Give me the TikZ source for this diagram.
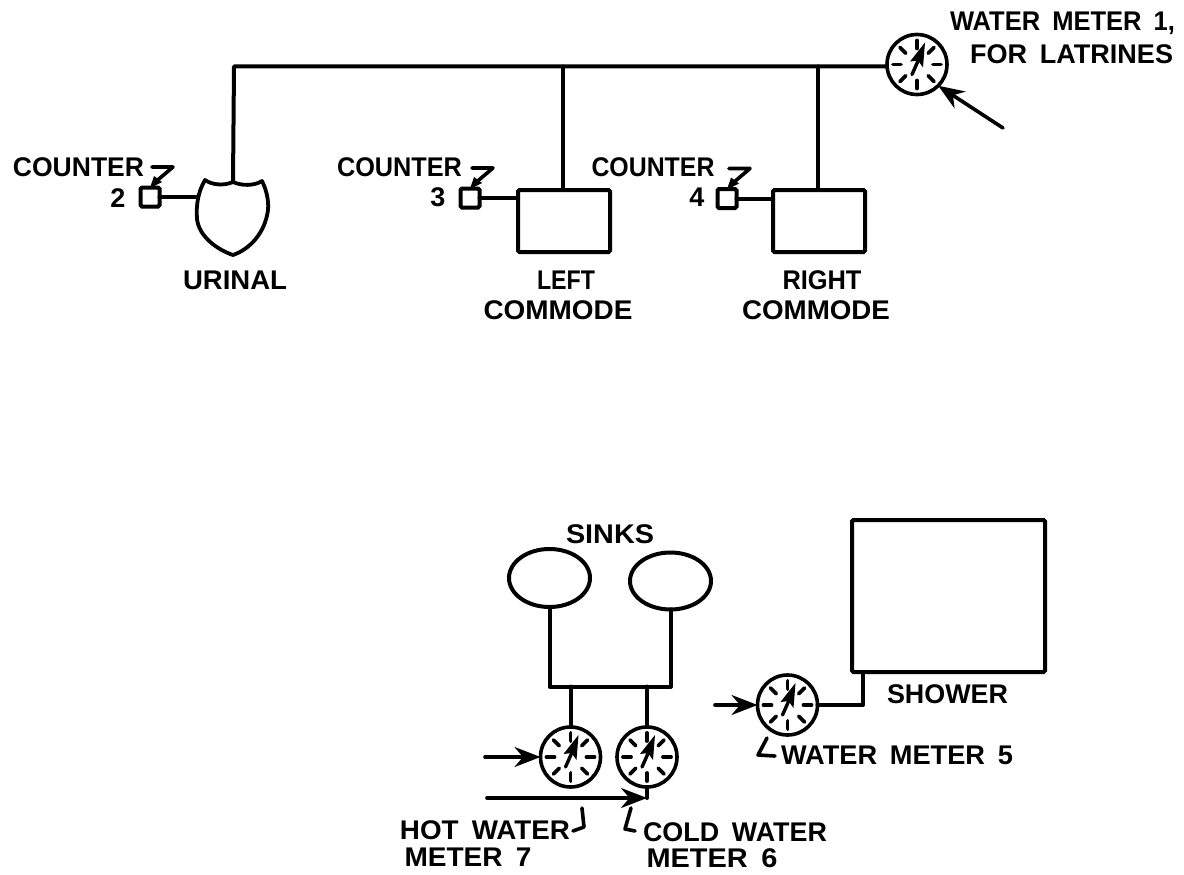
\documentclass[tikz,border=0pt]{standalone}
\usepackage{graphicx}
\usepackage{fontspec}
\setmainfont{Liberation Sans}[BoldFont=* Bold,WordSpace=1.7]
\usetikzlibrary{arrows.meta,shapes.geometric,calc}
\tikzset{
  pipe/.style={line width=4pt,line cap=round,line join=round},
  meter/.style={circle,draw,line width=3.6pt,minimum size=60pt,inner sep=0pt,outer sep=0pt,fill=white},
  flow/.style={line width=3.6pt,line cap=round,-{Stealth[length=26pt,width=20pt]}},
  fixture/.style={draw,line width=4pt,rounded corners=1.5pt,inner sep=0pt,outer sep=0pt,fill=white},
  counterbox/.style={draw,line width=4pt,rounded corners=1.5pt,minimum size=19pt,inner sep=0pt,outer sep=0pt,fill=white},
  sink/.style={ellipse,draw,line width=4pt,inner sep=0pt,outer sep=0pt},
  lab/.style={inner sep=0pt,font=\fontsize{27}{29}\selectfont\bfseries},
  tick/.style={line width=3.8pt,line cap=round},
  leader/.style={line width=3.6pt,line cap=round,line join=round},
}
\newcommand{\fitw}[2]{\resizebox{#1pt}{\height}{#2}}
\newcommand{\dial}[1]{%
  \foreach \a in {0,45,...,315}{
    \draw[tick] ($(#1)+(\a:16)$) -- ($(#1)+(\a:24)$);
  }
  \fill ($(#1)+(8,-22)$) -- ($(#1)+(-7,-3)$) -- ($(#1)+(1,-4)$) -- ($(#1)+(6,3)$) -- cycle;
  \draw[line width=3.4pt,line cap=round] ($(#1)+(-5,10)$) -- ($(#1)+(3,-8)$);
}
\newcommand{\flag}[1]{%
  \draw[leader] ($(#1)+(2,-30)$) -- ($(#1)+(23,-30)$) -- ($(#1)+(3,-13)$);
  \fill ($(#1)+(0,-9)$) -- ($(#1)+(4,-21)$) -- ($(#1)+(12,-15)$) -- cycle;
}
\begin{document}
\begin{tikzpicture}[x=1pt,y=-1pt]
\useasboundingbox (0,0) rectangle (1184,875);
% junctions
\coordinate (corner) at (234,66.5);
\coordinate (jl) at (563,66.5);
\coordinate (jr) at (818,66.5);
% meters
\node[meter] (m1) at (917,64.5) {};
\node[meter] (m7) at (570.5,757) {};
\node[meter] (m6) at (647,757) {};
\node[meter] (m5) at (787.5,705) {};
\dial{m1}\dial{m7}\dial{m6}\dial{m5}
% fixtures
\node[fixture,minimum width=92pt,minimum height=62pt] (lc) at (564,221) {};
\node[fixture,minimum width=92pt,minimum height=62pt] (rc) at (819,221) {};
\node[fixture,minimum width=193pt,minimum height=152pt] (shower) at (948.5,596) {};
\node[counterbox] (c2) at (150,197) {};
\node[counterbox] (c3) at (470,198) {};
\node[counterbox] (c4) at (727,198.5) {};
\node[sink,minimum width=81pt,minimum height=58pt] (s1) at (549.5,578) {};
\node[sink,minimum width=81pt,minimum height=57pt] (s2) at (670.5,581) {};
% urinal
\coordinate (utop) at (233,182);
\coordinate (uleft) at (197,198);
\draw[line width=3.8pt,line join=round,line cap=round]
  (utop) .. controls (224,186) and (212,185) .. (205,180)
  .. controls (198,192) and (196,205) .. (197,219)
  .. controls (199,237) and (218,250) .. (233,255)
  .. controls (250,249) and (265,233) .. (268,210)
  .. controls (269,200) and (266,189) .. (262,181)
  .. controls (254,186) and (242,186) .. (233,182);
% top pipes
\draw[pipe] (utop) -- (corner) -- (jl) -- (jr) -- (jr -| m1.west);
\draw[pipe] (jl) -- (lc.north -| jl);
\draw[pipe] (jr) -- (rc.north -| jr);
\draw[pipe] (c2.east) -- (uleft |- c2.east);
\draw[pipe] (c3.east) -- (lc.west |- c3.east);
\draw[pipe] (c4.east) -- (rc.west |- c4.east);
% sinks
\coordinate (b1) at (549.5,686.5);
\coordinate (b2) at (670.5,686.5);
\draw[pipe] (s1.south) -- (b1) -- (b2) -- (s2.south);
\draw[pipe] (m7.north) -- (m7.north |- b1);
\draw[pipe] (m6.north) -- (m6.north |- b1);
% shower pipe
\coordinate (sj) at (863,705);
\draw[pipe] (m5.east) -- (sj) -- (sj |- shower.south);
% flow arrows
\coordinate (a1) at (1003,128);
\coordinate (a7) at (485,757);
\coordinate (a5) at (715,705);
\coordinate (a6) at (487,798);
\coordinate (j6) at (647,798);
\draw[flow] (a1) -- (m1.-45);
\draw[flow] (a7) -- (m7.west);
\draw[flow] (a5) -- (m5.west);
\draw[flow] (a6) -- (j6);
\draw[pipe] (j6) -- (m6.south);
% labels
\node[lab] (t1) at (1062.5,23) {\fitw{225}{WATER METER 1,}};
\node[lab] (t1b) at (1071.5,54) {\fitw{203}{FOR LATRINES}};
\node[lab] (t2) at (78.5,167) {\fitw{131}{COUNTER}};
\node[lab] (t2b) at (118,198) {2};
\node[lab] (t3) at (399.5,167) {\fitw{125}{COUNTER}};
\node[lab] (t3b) at (438,197.5) {3};
\node[lab] (t4) at (653,167) {\fitw{123}{COUNTER}};
\node[lab] (t4b) at (697,197.5) {4};
\node[lab] (u) at (235,280) {\fitw{104}{URINAL}};
\node[lab] (l1) at (566,280) {\fitw{58}{LEFT}};
\node[lab] (l2) at (558,310) {\fitw{149}{COMMODE}};
\node[lab] (r1) at (822,280) {\fitw{79}{RIGHT}};
\node[lab] (r2) at (816,310) {\fitw{148}{COMMODE}};
\node[lab] (s) at (610,534) {\fitw{88}{SINKS}};
\node[lab] (sh) at (947.5,694) {\fitw{121}{SHOWER}};
\node[lab] (w5) at (897,755) {\fitw{232}{WATER METER 5}};
\node[lab] (h1) at (485,830) {\fitw{170}{HOT WATER}};
\node[lab] (h2) at (468,857) {\fitw{127}{METER 7}};
\node[lab] (cw1) at (735,832) {\fitw{184}{COLD WATER}};
\node[lab] (cw2) at (712,858) {\fitw{131}{METER 6}};
% leader marks
\flag{c2}\flag{c3}\flag{c4}
\coordinate (lm5a) at (767,738); \coordinate (lm5b) at (758,755); \coordinate (lm5c) at (775,756);
\coordinate (lm6a) at (631,808); \coordinate (lm6b) at (625,829); \coordinate (lm6c) at (635,831);
\coordinate (lm7a) at (582,808); \coordinate (lm7b) at (584,827); \coordinate (lm7c) at (573,831);
\draw[leader] (lm5a) -- (lm5b) -- (lm5c);
\draw[leader] (lm6a) -- (lm6b) -- (lm6c);
\draw[leader] (lm7a) -- (lm7b) -- (lm7c);
\end{tikzpicture}
\end{document}
